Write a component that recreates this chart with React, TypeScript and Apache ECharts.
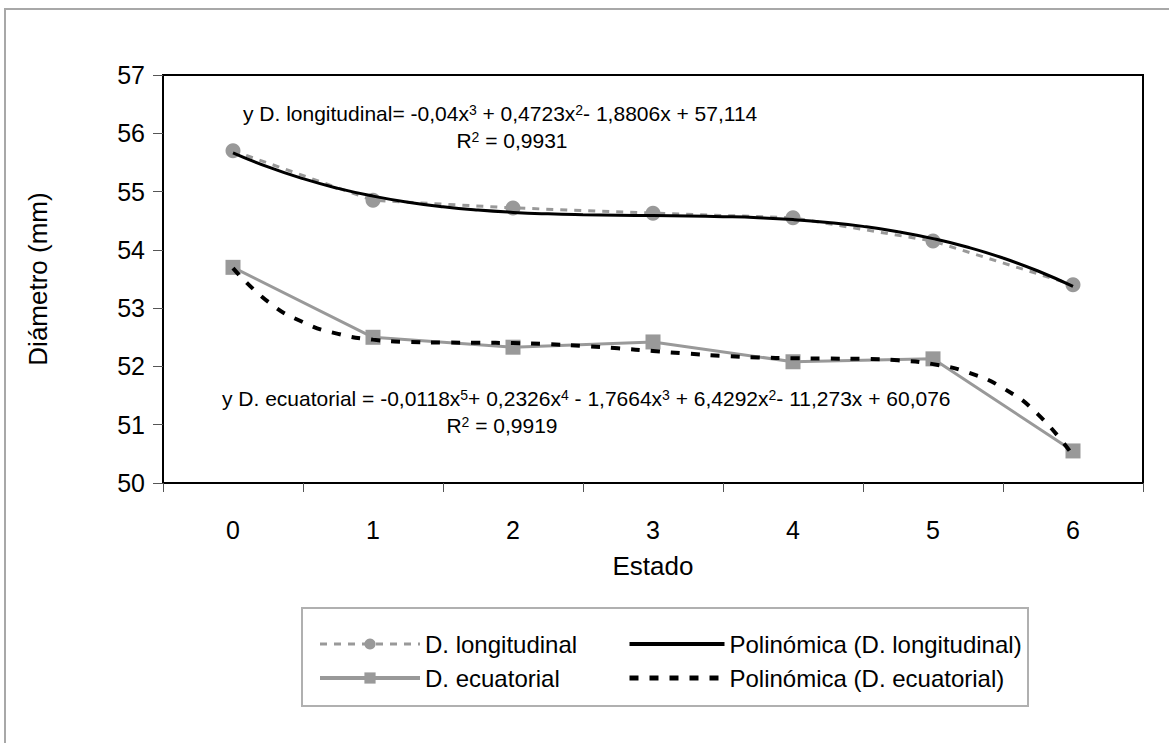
import React, { useEffect, useRef } from "react";
import * as echarts from "echarts";

const categories = ["0", "1", "2", "3", "4", "5", "6"];
const longitudinal = [55.7, 54.85, 54.72, 54.63, 54.55, 54.15, 53.4];
const ecuatorial = [53.7, 52.5, 52.33, 52.42, 52.08, 52.13, 50.55];

const trendX = [0, 0.25, 0.5, 0.75, 1, 1.25, 1.5, 1.75, 2, 2.25, 2.5, 2.75, 3, 3.25, 3.5, 3.75, 4, 4.25, 4.5, 4.75, 5, 5.25, 5.5, 5.75, 6];
const longTrend = [55.666, 55.423, 55.221, 55.055, 54.922, 54.818, 54.739, 54.682, 54.643, 54.618, 54.603, 54.594, 54.588, 54.582, 54.570, 54.551, 54.519, 54.470, 54.403, 54.312, 54.193, 54.044, 53.860, 53.637, 53.373];
const ecuaTrend = [53.687, 53.112, 52.759, 52.559, 52.460, 52.420, 52.410, 52.407, 52.400, 52.382, 52.351, 52.310, 52.264, 52.219, 52.182, 52.155, 52.141, 52.135, 52.129, 52.105, 52.040, 51.896, 51.629, 51.178, 50.471];

const yMin = 50;
const yMax = 57;
const yStep = 1;

const seriesNames = [
  "D. longitudinal",
  "D. ecuatorial",
  "Polinómica (D. longitudinal)",
  "Polinómica (D. ecuatorial)",
];

const eqLong = ["y D. longitudinal= -0,04x", "3", " + 0,4723x", "2", "- 1,8806x + 57,114"];
const r2Long = ["R", "2", " = 0,9931"];
const eqEcua = ["y D. ecuatorial = -0,0118x", "5", "+ 0,2326x", "4", " - 1,7664x", "3", " + 6,4292x", "2", "- 11,273x + 60,076"];
const r2Ecua = ["R", "2", " = 0,9919"];

const FONT = "'Liberation Sans', Arial, Helvetica, sans-serif";

function richText(parts: string[]) {
  return parts.map((p, i) => (i % 2 === 0 ? `{t|${p}}` : `{s|${p}}`)).join("");
}

const rich = {
  t: { fontSize: 21, fontFamily: FONT, fill: "#000", color: "#000" },
  s: { fontSize: 14, fontFamily: FONT, fill: "#000", color: "#000", verticalAlign: "top" },
};

export default function App() {
  const ref = useRef<HTMLDivElement>(null);

  useEffect(() => {
    if (!ref.current) return;
    const chart = echarts.init(ref.current, null, { renderer: "svg" });
    const legendText = { fontSize: 24, color: "#000", fontFamily: FONT };
    const option: any = {
      animation: false,
      backgroundColor: "#fff",
      textStyle: { fontFamily: FONT },
      grid: {
        left: 163,
        top: 75,
        right: 26,
        bottom: 260,
        show: true,
        borderColor: "#000",
        borderWidth: 2,
        backgroundColor: "transparent",
      },
      xAxis: [
        {
          type: "category",
          data: categories,
          boundaryGap: true,
          name: "Estado",
          nameLocation: "middle",
          nameGap: 70,
          nameTextStyle: { fontSize: 26, color: "#000", fontFamily: FONT },
          axisLine: { onZero: false, lineStyle: { color: "#000", width: 2 } },
          axisTick: { show: true, length: 9, lineStyle: { color: "#555", width: 1 } },
          axisLabel: { fontSize: 25, color: "#000", margin: 34, fontFamily: FONT },
          splitLine: { show: false },
        },
        {
          type: "value",
          min: -0.5,
          max: 6.5,
          show: false,
          axisLine: { show: false, onZero: false },
          splitLine: { show: false },
        },
      ],
      yAxis: {
        type: "value",
        min: yMin,
        max: yMax,
        interval: yStep,
        name: "Diámetro (mm)",
        nameLocation: "middle",
        nameGap: 112,
        nameTextStyle: { fontSize: 26, color: "#000", fontFamily: FONT },
        axisLine: { show: true, onZero: false, lineStyle: { color: "#000", width: 2 } },
        axisTick: { show: true, length: 10, lineStyle: { color: "#555", width: 1 } },
        axisLabel: { fontSize: 25, color: "#000", margin: 18, fontFamily: FONT },
        splitLine: { show: false },
      },
      legend: [
        {
          orient: "vertical",
          left: 313,
          top: 627,
          itemWidth: 100,
          itemHeight: 14,
          itemGap: 10,
          textStyle: legendText,
          data: [
            { name: seriesNames[0], lineStyle: { width: 3 } },
            { name: seriesNames[1], lineStyle: { width: 4 } },
          ],
        },
        {
          orient: "vertical",
          left: 622,
          top: 627,
          itemWidth: 95,
          itemHeight: 14,
          itemGap: 10,
          textStyle: legendText,
          data: [
            { name: seriesNames[2], itemStyle: { opacity: 0 }, lineStyle: { width: 4 } },
            { name: seriesNames[3], itemStyle: { opacity: 0 }, lineStyle: { width: 5 } },
          ],
        },
      ],
      graphic: [
        {
          type: "rect",
          shape: { x: 5, y: 9, width: 1300, height: 900 },
          style: { fill: "none", stroke: "#a8a8a8", lineWidth: 2 },
          silent: true,
        },
        {
          type: "rect",
          shape: { x: 302, y: 608, width: 726, height: 98 },
          style: { fill: "none", stroke: "#b0b0b0", lineWidth: 2 },
          silent: true,
        },
        {
          type: "text",
          x: 243,
          y: 113,
          style: { text: richText(eqLong), rich, verticalAlign: "middle", align: "left" },
        },
        {
          type: "text",
          x: 512,
          y: 140,
          style: { text: richText(r2Long), rich, verticalAlign: "middle", align: "center" },
        },
        {
          type: "text",
          x: 222,
          y: 398,
          style: { text: richText(eqEcua), rich, verticalAlign: "middle", align: "left" },
        },
        {
          type: "text",
          x: 502,
          y: 425,
          style: { text: richText(r2Ecua), rich, verticalAlign: "middle", align: "center" },
        },
      ],
      series: [
        {
          name: seriesNames[0],
          type: "line",
          data: longitudinal,
          symbol: "circle",
          symbolSize: 15,
          lineStyle: { color: "#999", width: 3, type: [7, 7] },
          itemStyle: { color: "#999" },
          z: 2,
        },
        {
          name: seriesNames[1],
          type: "line",
          data: ecuatorial,
          symbol: "rect",
          symbolSize: 15,
          lineStyle: { color: "#999", width: 3, type: "solid" },
          itemStyle: { color: "#999" },
          z: 2,
        },
        {
          name: seriesNames[2],
          type: "line",
          xAxisIndex: 1,
          data: trendX.map((x, i) => [x, longTrend[i]]),
          symbol: "none",
          smooth: true,
          lineStyle: { color: "#000", width: 3 },
          itemStyle: { color: "#000" },
          z: 3,
        },
        {
          name: seriesNames[3],
          type: "line",
          xAxisIndex: 1,
          data: trendX.map((x, i) => [x, ecuaTrend[i]]),
          symbol: "none",
          smooth: true,
          lineStyle: { color: "#000", width: 4, type: [9, 11] },
          itemStyle: { color: "#000" },
          z: 3,
        },
      ],
    };
    chart.setOption(option);
    return () => chart.dispose();
  }, []);

  return (
    <div
      ref={ref}
      style={{ position: "fixed", left: 0, top: 0, width: 1169, height: 743 }}
    />
  );
}
